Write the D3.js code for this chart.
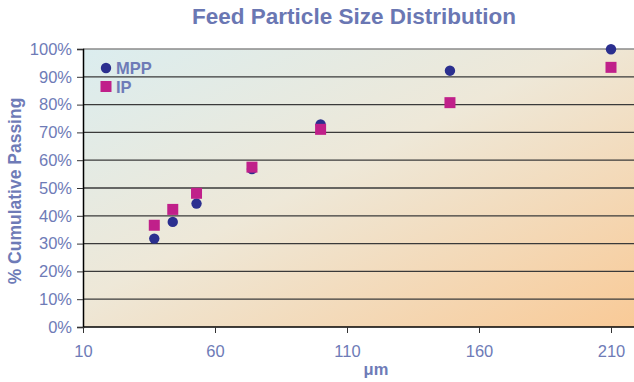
<!DOCTYPE html>
<html><head><meta charset="utf-8">
<script src="https://cdn.jsdelivr.net/npm/d3@7/dist/d3.min.js"></script>
<style>body{margin:0;background:#fff;}svg{display:block;font-family:"Liberation Sans",Arial,sans-serif;}</style>
</head><body>
<svg id="c" width="634" height="382"></svg>
<script>
const sizes = [37, 44, 53, 74, 100, 149, 210];
const mpp = [31.8, 37.8, 44.4, 56.8, 72.9, 92.2, 99.9];
const ip = [36.6, 42.3, 48.1, 57.5, 71.1, 80.7, 93.4];
const xTicks = [10, 60, 110, 160, 210];
const yTicks = [0, 10, 20, 30, 40, 50, 60, 70, 80, 90, 100];
const seriesNames = ["MPP", "IP"];
const seriesColors = ["#2b2f8f", "#c0208a"];

const svg = d3.select("#c");
const W = 634, H = 382;
const m = {l: 83, t: 49, r: 23, b: 55};
const x = d3.scaleLinear().domain([10, 210]).range([m.l, W - m.r]);
const y = d3.scaleLinear().domain([0, 100]).range([H - m.b, m.t]);
const txt = "#6e7bb7";

const defs = svg.append("defs");
const g = defs.append("linearGradient").attr("id", "bg")
  .attr("x1", 0).attr("y1", 0).attr("x2", 1).attr("y2", 1);
g.append("stop").attr("offset", "0").attr("stop-color", "#dbedef");
g.append("stop").attr("offset", "0.45").attr("stop-color", "#eee8d8");
g.append("stop").attr("offset", "1").attr("stop-color", "#f9ca97");

svg.append("rect").attr("x", m.l).attr("y", m.t)
  .attr("width", W - m.l).attr("height", y(0) - m.t).attr("fill", "url(#bg)");

// gridlines
svg.append("g").selectAll("line").data(yTicks.filter(d => d > 0)).join("line")
  .attr("x1", m.l).attr("x2", W).attr("y1", d => y(d)).attr("y2", d => y(d))
  .attr("stroke", d => d === 100 ? "#8a8a8a" : "#3a3a3a").attr("stroke-width", 1.3);

// axes
const ya = svg.append("g").attr("transform", `translate(${m.l},0)`)
  .call(d3.axisLeft(y).tickValues(yTicks).tickFormat(d => d + "%").tickSize(6).tickPadding(5));
const xa = svg.append("g").attr("transform", `translate(0,${y(0)})`)
  .call(d3.axisBottom(x).tickValues(xTicks).tickSize(6).tickPadding(12));
[ya, xa].forEach(a => {
  a.select(".domain").attr("stroke", "#000").attr("stroke-width", 1.5);
  a.selectAll(".tick line").attr("stroke", "#333");
  a.selectAll("text").attr("fill", txt).attr("font-size", 16.5)
    .attr("font-family", "Liberation Sans, Arial, sans-serif");
});
xa.select(".domain").attr("d", `M${m.l},0H${W}`);

// points
svg.append("g").selectAll("circle").data(sizes).join("circle")
  .attr("cx", d => x(d)).attr("cy", (d, i) => y(mpp[i])).attr("r", 5.2)
  .attr("fill", seriesColors[0]);
svg.append("g").selectAll("rect").data(sizes).join("rect")
  .attr("x", d => x(d) - 5.5).attr("y", (d, i) => y(ip[i]) - 5.5)
  .attr("width", 11).attr("height", 11).attr("fill", seriesColors[1]);

// legend
const lg = svg.append("g");
lg.append("circle").attr("cx", 106).attr("cy", 68).attr("r", 5.2).attr("fill", seriesColors[0]);
lg.append("rect").attr("x", 100.5).attr("y", 81).attr("width", 11).attr("height", 11).attr("fill", seriesColors[1]);
lg.selectAll("text").data(seriesNames).join("text")
  .attr("x", 116).attr("y", (d, i) => 74 + i * 19)
  .attr("font-weight", "bold").attr("font-size", 16.5).attr("fill", txt).text(d => d);

// titles
svg.append("text").attr("x", 354).attr("y", 24).attr("text-anchor", "middle")
  .attr("font-weight", "bold").attr("font-size", 22.5).attr("fill", "#6a77b3")
  .text("Feed Particle Size Distribution");
svg.append("text").attr("transform", "translate(21,191) rotate(-90)").attr("text-anchor", "middle")
  .attr("font-weight", "bold").attr("font-size", 17.5).attr("fill", txt)
  .text("% Cumulative Passing");
svg.append("text").attr("x", 376).attr("y", 375).attr("text-anchor", "middle")
  .attr("font-weight", "bold").attr("font-size", 16.5).attr("fill", txt).text("μm");
</script>
</body></html>
